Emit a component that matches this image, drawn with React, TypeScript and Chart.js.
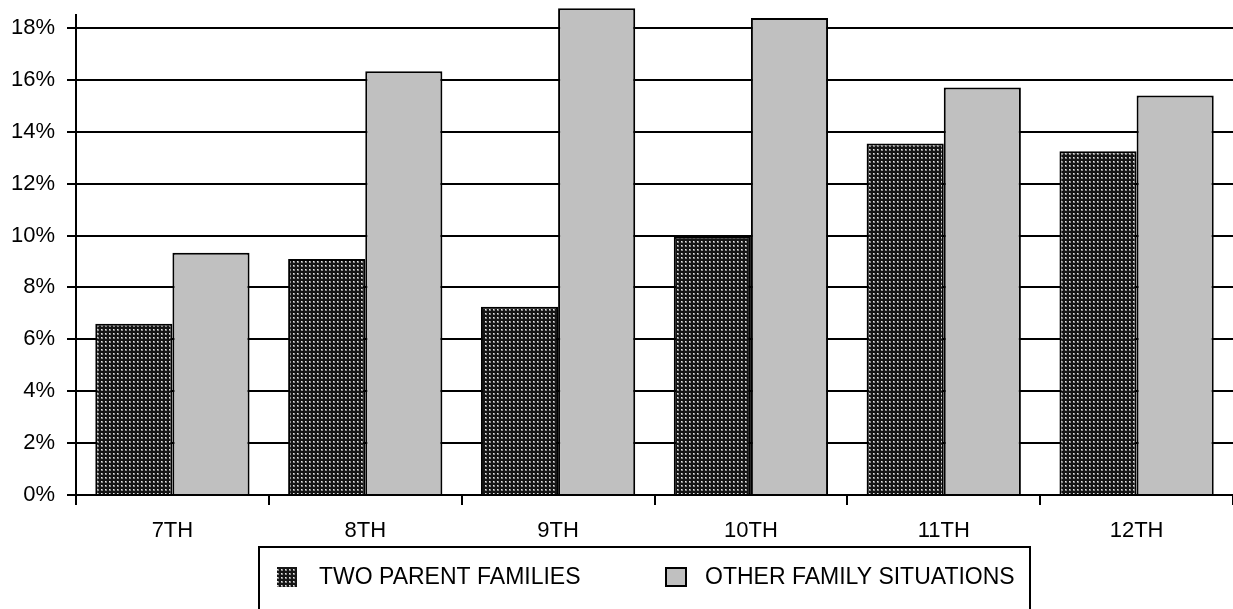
import React, { useEffect, useRef } from "react";
import { Chart, registerables } from "chart.js";

Chart.register(...registerables);

const categories = ["7TH", "8TH", "9TH", "10TH", "11TH", "12TH"];
const twoParent = [6.6, 9.1, 7.26, 9.95, 13.55, 13.25];
const otherFamily = [9.34, 16.33, 18.76, 18.38, 15.71, 15.4];
const yTickValues = [0, 2, 4, 6, 8, 10, 12, 14, 16, 18];
const seriesNames = ["TWO PARENT FAMILIES", "OTHER FAMILY SITUATIONS"];

const FONT = '"Liberation Sans", Arial, sans-serif';

function makePattern(): CanvasPattern | string {
  const c = document.createElement("canvas");
  c.width = 4;
  c.height = 4;
  const g = c.getContext("2d");
  if (!g) return "#333";
  g.fillStyle = "#151515";
  g.fillRect(0, 0, 4, 4);
  g.fillStyle = "#8a8a8a";
  g.fillRect(1, 1, 2, 2);
  g.fillStyle = "#e8e8e8";
  g.fillRect(1, 1, 1, 1);
  const p = g.createPattern(c, "repeat");
  return p || "#333";
}

export default function App() {
  const ref = useRef<HTMLCanvasElement | null>(null);

  useEffect(() => {
    const canvas = ref.current;
    if (!canvas) return;
    const pattern = makePattern();

    const legendPlugin = {
      id: "boxLegend",
      afterDraw(chart: any) {
        const ctx = chart.ctx as CanvasRenderingContext2D;
        ctx.save();
        ctx.strokeStyle = "#000";
        ctx.lineWidth = 2;
        ctx.strokeRect(259, 547, 771, 80);
        ctx.font = `23px ${FONT}`;
        ctx.textBaseline = "middle";
        ctx.textAlign = "left";
        // item 1
        ctx.fillStyle = pattern as any;
        ctx.fillRect(277, 567, 20, 20);
        ctx.fillStyle = "#000";
        ctx.fillText(seriesNames[0], 319, 578);
        // item 2
        ctx.fillStyle = "#c0c0c0";
        ctx.fillRect(666, 568, 20, 18);
        ctx.lineWidth = 2;
        ctx.strokeStyle = "#000";
        ctx.strokeRect(666, 568, 20, 18);
        ctx.fillStyle = "#000";
        ctx.fillText(seriesNames[1], 705, 578);
        ctx.restore();
      },
    };

    const chart = new Chart(canvas, {
      type: "bar",
      data: {
        labels: categories,
        datasets: [
          {
            label: seriesNames[0],
            data: twoParent,
            backgroundColor: pattern as any,
            borderColor: "#000",
            borderWidth: 2,
            categoryPercentage: 0.8,
            barPercentage: 1.0,
            clip: false as any,
          },
          {
            label: seriesNames[1],
            data: otherFamily,
            backgroundColor: "#c0c0c0",
            borderColor: "#000",
            borderWidth: 2,
            categoryPercentage: 0.8,
            barPercentage: 1.0,
            clip: false as any,
          },
        ],
      },
      options: {
        responsive: false,
        animation: false,
        layout: { padding: { top: 15, right: 0, left: 0, bottom: 0 } },
        plugins: {
          legend: { display: false },
          tooltip: { enabled: false },
          title: { display: false },
        },
        scales: {
          x: {
            grid: {
              offset: true,
              drawOnChartArea: false,
              drawTicks: true,
              tickLength: 10,
              color: "#000",
              lineWidth: 2,
            },
            border: { display: true, color: "#000", width: 2 },
            ticks: {
              color: "#000",
              font: { family: FONT, size: 22 },
              padding: 13,
              maxRotation: 0,
              autoSkip: false,
            },
            afterFit: (scale: any) => {
              scale.height = 114;
              scale.paddingLeft = 0;
              scale.paddingRight = 0;
            },
          },
          y: {
            min: 0,
            max: 18.5,
            afterBuildTicks: (scale: any) => {
              scale.ticks = yTickValues.map((v) => ({ value: v }));
            },
            afterFit: (scale: any) => {
              scale.width = 76;
              scale.paddingTop = 0;
              scale.paddingBottom = 0;
            },
            grid: {
              color: "#000",
              lineWidth: 2,
              drawTicks: true,
              tickLength: 9,
            },
            border: { display: true, color: "#000", width: 2 },
            ticks: {
              color: "#000",
              font: { family: FONT, size: 22 },
              padding: 12,
              callback: (v: any) => `${v}%`,
            },
          },
        },
      },
      plugins: [legendPlugin],
    });

    return () => chart.destroy();
  }, []);

  return (
    <div style={{ position: "absolute", left: 0, top: 0, width: 1233, height: 609, background: "#fff" }}>
      <canvas ref={ref} width={1233} height={609} style={{ display: "block" }} />
    </div>
  );
}
